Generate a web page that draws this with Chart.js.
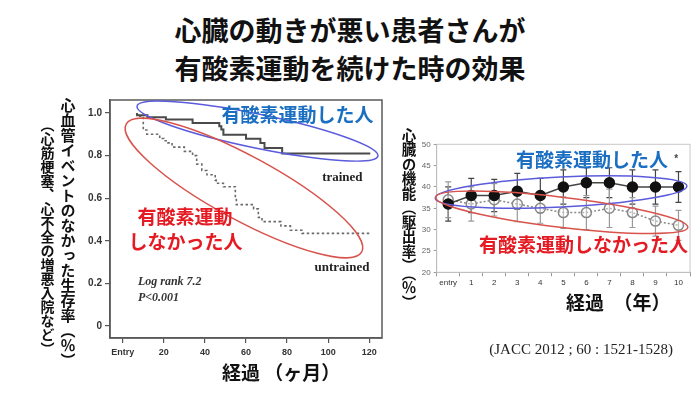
<!DOCTYPE html>
<html lang="ja">
<head>
<meta charset="utf-8">
<script src="https://cdn.jsdelivr.net/npm/chart.js@4.4.1/dist/chart.umd.min.js"></script>
<style>
  body { margin: 0; width: 700px; height: 395px; background: #fff; position: relative; overflow: hidden;
         font-family: "Noto Sans CJK JP", sans-serif; }
  .abs { position: absolute; white-space: nowrap; }
  .title { left: 0; top: 11px; width: 700px; text-align: center; font-size: 27px; font-weight: 700; line-height: 38px; color: #111; }
  .vert { writing-mode: vertical-rl; font-weight: 700; color: #111; }
  .xtitle { font-size: 19px; line-height: 19px; font-weight: 700; color: #111; }
  .cite { font-family: "Liberation Serif", serif; font-size: 15px; line-height: 16px; color: #222; }
</style>
</head>
<body>
<div class="abs" style="left:0; top:90px; width:390px; height:300px;">
  <canvas id="survivalChart" width="390" height="300"></canvas>
</div>
<div class="abs" style="left:395px; top:135px; width:305px; height:160px;">
  <canvas id="efChart" width="305" height="160"></canvas>
</div>

<div class="abs title">心臓の動きが悪い患者さんが<br>有酸素運動を続けた時の効果</div>
<div class="abs vert" style="left:60.5px; top:97.5px; font-size:15px; line-height:15px;">心血管イベントのなかった生存率（％）</div>
<div class="abs vert" style="left:40.5px; top:117.5px; font-size:14px; line-height:14px;">（心筋梗塞、心不全の増悪入院など）</div>
<div class="abs vert" style="left:401px; top:128px; font-size:14.5px; line-height:14.5px;">心臓の機能（駆出率）（％）</div>
<div class="abs xtitle" style="left:222px; top:362px;">経過 （ヶ月）</div>
<div class="abs xtitle" style="left:566px; top:292px;">経過　（年）</div>
<div class="abs cite" style="right:27px; top:341px;">(JACC 2012 ; 60 : 1521-1528)</div>

<script>
Chart.defaults.font.family = "'Liberation Sans', Arial, sans-serif";

// Left: event-free survival (Kaplan-Meier steps)
const trainedMonths = [7, 12, 21, 34, 47, 48, 49, 60, 67, 69, 77.6, 95.4, 120.5];
const trainedSurvival = [1.0, 0.99, 0.98, 0.97, 0.953, 0.938, 0.922, 0.898, 0.879, 0.859, 0.836, 0.81, 0.81];

const untrainedMonths = [7, 10, 11.7, 18, 20, 22, 24, 30, 34, 36, 38.5, 41, 45, 45.5, 49, 54.8, 55.3, 63.7, 66, 67.8, 77, 81.6, 87.3, 95.4, 120.6];
const untrainedSurvival = [1.0, 0.985, 0.92, 0.9, 0.88, 0.87, 0.86, 0.84, 0.82, 0.8, 0.76, 0.73, 0.71, 0.685, 0.67, 0.654, 0.604, 0.57, 0.55, 0.51, 0.49, 0.47, 0.45, 0.435, 0.435];

const monthTicks = [0, 20, 40, 60, 80, 100, 120];
const monthTickLabels = ["Entry", "20", "40", "60", "80", "100", "120"];
const survivalTicks = [0, 0.2, 0.4, 0.6, 0.8, 1.0];
const survivalTickLabels = ["0", "0.2", "0.4", "0.6", "0.8", "1.0"];

// Right: ejection fraction by year
const yearLabels = ["entry", "1", "2", "3", "4", "5", "6", "7", "8", "9", "10"];
const trainedEF = [36, 38, 38, 39, 38, 40, 41, 41, 40, 40, 40];
const trainedErr = [4, 4, 3.8, 4.2, 4, 4, 3.5, 3.5, 4, 4, 3.6];
const untrainedEF = [37, 36, 37, 36, 35, 34, 34, 35, 34, 32, 31];
const untrainedErr = [4.2, 4, 3.8, 4.1, 3.5, 3.7, 4, 4.5, 3.5, 3.5, 3.5];

const jpBlue = "#1b6fc2";
const jpRed = "#e51a22";
const jpFont = "bold 19px 'Noto Sans CJK JP'";

function toPoints(xs, ys) {
  return xs.map((x, i) => ({ x: x, y: ys[i] }));
}

// frame, circled groups and notes drawn on top of the plot
function makeNotes(frameColor, frameWidth, ellipses, labels) {
  return {
    id: "notes",
    afterDatasetsDraw(chart) {
      const { ctx, chartArea: a, scales: { x, y } } = chart;
      ctx.save();
      ctx.strokeStyle = frameColor;
      ctx.lineWidth = frameWidth;
      ctx.strokeRect(a.left, a.top, a.right - a.left, a.bottom - a.top);

      ellipses.forEach((e) => {
        ctx.beginPath();
        ctx.strokeStyle = e.color;
        ctx.lineWidth = 1.5;
        ctx.ellipse(x.getPixelForValue(e.x), y.getPixelForValue(e.y), e.rx, e.ry, e.rot, 0, Math.PI * 2);
        ctx.stroke();
      });

      labels.forEach((t) => {
        ctx.font = t.font;
        ctx.fillStyle = t.color;
        ctx.textAlign = t.align || "center";
        ctx.textBaseline = "middle";
        ctx.fillText(t.text, x.getPixelForValue(t.x), y.getPixelForValue(t.y));
      });
      ctx.restore();
    },
  };
}

// vertical error bars, drawn under the points
const errorBars = {
  id: "errorBars",
  beforeDatasetsDraw(chart) {
    const { ctx, scales: { x, y } } = chart;
    chart.data.datasets.forEach((ds) => {
      if (!ds.errors) return;
      ctx.save();
      ctx.strokeStyle = ds.errorColor;
      ctx.lineWidth = 1.2;
      ds.data.forEach((v, j) => {
        const px = x.getPixelForValue(j);
        const top = y.getPixelForValue(v + ds.errors[j]);
        const bot = y.getPixelForValue(v - ds.errors[j]);
        ctx.beginPath();
        ctx.moveTo(px, top);
        ctx.lineTo(px, bot);
        ctx.moveTo(px - 3, top);
        ctx.lineTo(px + 3, top);
        ctx.moveTo(px - 3, bot);
        ctx.lineTo(px + 3, bot);
        ctx.stroke();
      });
      ctx.restore();
    });
  },
};

const survivalNotes = makeNotes(
  "#5a5a5a",
  1.5,
  [
    { x: 65.6, y: 0.915, rx: 123, ry: 17, rot: 0.204, color: "#5b5bdc" },
    { x: 59.0, y: 0.648, rx: 134, ry: 32, rot: 0.497, color: "#d9534d" },
  ],
  [
    { text: "有酸素運動した人", x: 85.1, y: 0.991, font: jpFont, color: jpBlue },
    { text: "有酸素運動", x: 30.3, y: 0.512, font: jpFont, color: jpRed },
    { text: "しなかった人", x: 30.6, y: 0.395, font: jpFont, color: jpRed },
    { text: "trained", x: 106.9, y: 0.695, font: "bold 13px 'Liberation Serif'", color: "#222" },
    { text: "untrained", x: 106.7, y: 0.273, font: "bold 13px 'Liberation Serif'", color: "#222" },
    { text: "Log rank 7.2", x: 7.4, y: 0.207, font: "italic bold 12px 'Liberation Serif'", color: "#333", align: "left" },
    { text: "P<0.001", x: 7.4, y: 0.132, font: "italic bold 12px 'Liberation Serif'", color: "#333", align: "left" },
  ]
);

new Chart(document.getElementById("survivalChart"), {
  type: "line",
  data: {
    datasets: [
      {
        label: "trained",
        data: toPoints(trainedMonths, trainedSurvival),
        borderColor: "#4a4a4a",
        borderWidth: 2,
        stepped: "after",
        pointRadius: 0,
      },
      {
        label: "untrained",
        data: toPoints(untrainedMonths, untrainedSurvival),
        borderColor: "#6a6a6a",
        borderWidth: 1.6,
        borderDash: [2.5, 2.5],
        stepped: "after",
        pointRadius: 0,
      },
    ],
  },
  options: {
    responsive: false,
    animation: false,
    layout: { padding: { left: 0, top: 10, right: 8, bottom: 0 } },
    plugins: { legend: { display: false }, tooltip: { enabled: false } },
    scales: {
      x: {
        type: "linear",
        min: -6.2,
        max: 126.2,
        afterBuildTicks: (s) => { s.ticks = monthTicks.map((v) => ({ value: v })); },
        afterFit: (s) => { s.height = 52; },
        ticks: {
          callback: (v, i) => monthTickLabels[i],
          font: { size: 9, weight: "bold" },
          color: "#333",
          padding: 4,
          maxRotation: 0,
          autoSkip: false,
        },
        grid: { drawOnChartArea: false, tickLength: 5, color: "#555", lineWidth: 1.2 },
        border: { color: "#5a5a5a", width: 1.5 },
      },
      y: {
        min: -0.056,
        max: 1.061,
        afterBuildTicks: (s) => { s.ticks = survivalTicks.map((v) => ({ value: v })); },
        afterFit: (s) => { s.width = 110; },
        ticks: {
          callback: (v, i) => survivalTickLabels[i],
          font: { size: 10, weight: "bold" },
          color: "#333",
          padding: 3,
        },
        grid: { drawOnChartArea: false, tickLength: 5, color: "#555", lineWidth: 1.2 },
        border: { color: "#5a5a5a", width: 1.5 },
      },
    },
  },
  plugins: [survivalNotes],
});

const efNotes = makeNotes(
  "#c8c8c8",
  1,
  [
    { x: 4.9, y: 38.8, rx: 126, ry: 15, rot: -0.049, color: "#5b5bdc" },
    { x: 4.93, y: 34.06, rx: 127, ry: 15, rot: 0.119, color: "#d9534d" },
  ],
  [
    { text: "有酸素運動した人", x: 6.24, y: 46.3, font: jpFont, color: jpBlue },
    { text: "*", x: 9.9, y: 46.6, font: "bold 10px 'Liberation Sans'", color: "#444" },
    { text: "有酸素運動しなかった人", x: 5.87, y: 26.4, font: jpFont, color: jpRed },
  ]
);

new Chart(document.getElementById("efChart"), {
  type: "line",
  data: {
    labels: yearLabels,
    datasets: [
      {
        label: "trained",
        data: trainedEF,
        errors: trainedErr,
        errorColor: "#444",
        borderColor: "#444",
        borderWidth: 1.5,
        pointRadius: 5,
        pointBackgroundColor: "#111",
        pointBorderColor: "#111",
      },
      {
        label: "untrained",
        data: untrainedEF,
        errors: untrainedErr,
        errorColor: "#9a9a9a",
        borderColor: "#888",
        borderWidth: 1.5,
        borderDash: [2, 2],
        pointRadius: 5,
        pointBackgroundColor: "rgba(255,255,255,0.4)",
        pointBorderColor: "#888",
        pointBorderWidth: 1.5,
      },
    ],
  },
  options: {
    responsive: false,
    animation: false,
    layout: { padding: { left: 0, top: 9.3, right: 10, bottom: 0 } },
    plugins: { legend: { display: false }, tooltip: { enabled: false } },
    scales: {
      x: {
        offset: true,
        afterFit: (s) => { s.height = 22.7; },
        ticks: { font: { size: 8 }, color: "#333", padding: 2, maxRotation: 0, autoSkip: false },
        grid: { offset: true, drawOnChartArea: false, tickLength: 4, color: "#999" },
        border: { color: "#999" },
      },
      y: {
        min: 20,
        max: 50,
        afterFit: (s) => { s.width = 41.7; },
        ticks: { stepSize: 5, font: { size: 8 }, color: "#666", padding: 3 },
        grid: { drawOnChartArea: false, tickLength: 3, color: "#999" },
        border: { color: "#999" },
      },
    },
  },
  plugins: [errorBars, efNotes],
});
</script>
</body>
</html>
